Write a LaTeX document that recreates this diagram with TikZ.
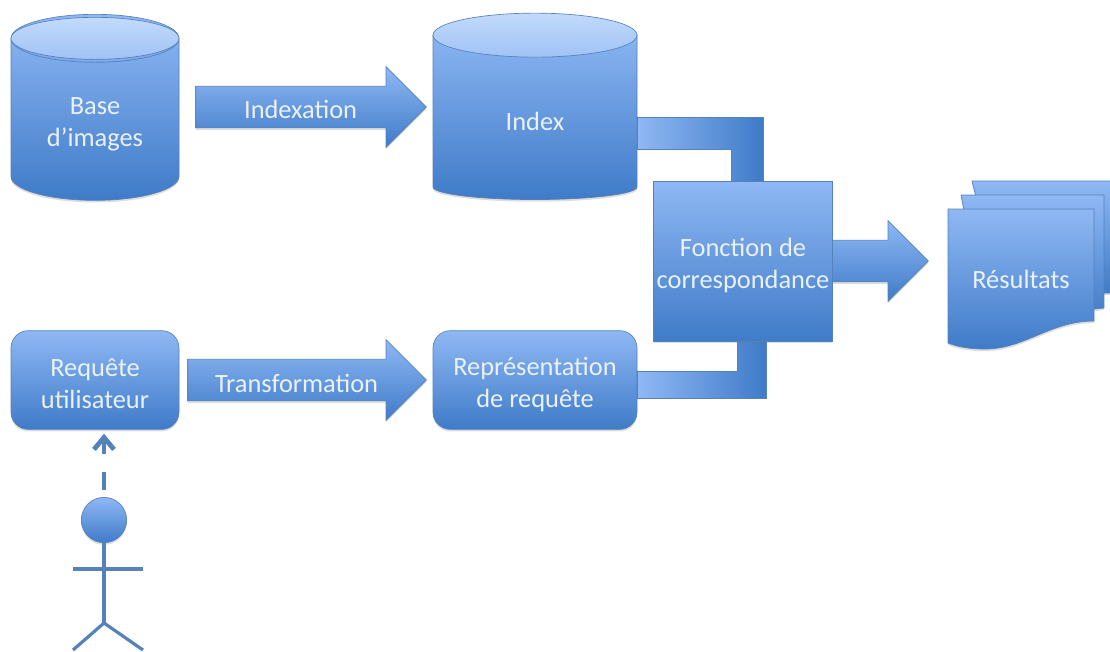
\documentclass[tikz,border=0pt]{standalone}
\usepackage{fontspec}
\setmainfont{Carlito}
\usetikzlibrary{positioning,shapes.geometric,shapes.arrows,shadows,calc,arrows.meta}
\definecolor{bluetop}{HTML}{8FB8F4}
\definecolor{bluebot}{HTML}{3F7BC8}
\definecolor{blueline}{HTML}{5582BA}
\definecolor{bluedisc}{HTML}{C2DAFB}
\definecolor{labelcol}{HTML}{E9F1FB}
\newcommand{\toppad}[1]{\rule{0pt}{#1}}
\tikzset{
  softshadow/.style={drop shadow={opacity=.22,fill=black!60,shadow xshift=0pt,shadow yshift=-1.6pt}},
  bluefill/.style={top color=bluetop,bottom color=bluebot,draw=blueline,line width=.5pt,softshadow},
  labeltext/.style={text=labelcol,align=center,font=\fontsize{19.8}{24}\selectfont},
  dbase/.style={bluefill,labeltext,cylinder,shape border rotate=90,inner sep=0pt},
  topdisc/.style={top color=bluedisc,bottom color=bluetop!85!white,draw=blueline,line width=.5pt},
  squarebox/.style={bluefill,labeltext,rectangle,inner sep=0pt},
  roundbox/.style={squarebox,rounded corners=13pt},
  blockarrow/.style={bluefill,labeltext,single arrow,single arrow head extend=14.6pt,single arrow head indent=0pt,minimum width=60pt,inner sep=0pt,text height=24.4pt,text depth=6.4pt},
  elbowbar/.style={left color=bluetop,right color=bluebot,draw=blueline,line width=.3pt},
  sheet/.style={bluefill},
  stickline/.style={draw=blueline,line width=2.4pt},
}
\begin{document}
\begin{tikzpicture}[x=0.75pt,y=-0.75pt]
\clip (0,0) rectangle (1110,651);
% stores and boxes
\node[dbase,aspect=.5,minimum width=126pt,minimum height=139.5pt] (base) at (95,119.5) {\toppad{20.2pt}Base\\d’images};
\node[dbase,aspect=.43,minimum width=153pt,minimum height=132.75pt] (index) at (535,117.5) {\toppad{20.2pt}Index};
\node[roundbox,minimum width=126pt,minimum height=74pt] (requete) at (95,380) {\toppad{19pt}Requête\\utilisateur};
\node[roundbox,minimum width=153pt,minimum height=74pt] (representation) at (535,380) {\toppad{20pt}Représentation\\de requête};
% top discs of the stores
\draw[topdisc] ($(base.before top)!.5!(base.after top)$) ellipse (84 and 21);
\draw[topdisc] ($(index.before top)!.5!(index.after top)$) ellipse (102 and 22);
% block arrows
\node[blockarrow,minimum height=173pt,right=12pt of base,yshift=9.4pt] (indexation) {Indexation};
\node[blockarrow,minimum height=179pt,right=6pt of requete] (transformation) {Transformation};
% elbows into the matching box
\path[elbowbar] (index.east |- 0,117) -- (763,117) -- (763,190) -- (731,190) -- (731,149) -- (index.east |- 0,149) -- cycle;
\path[elbowbar] (representation.east |- 0,371) -- (737,371) -- (737,330) -- (766,330) -- (766,398) -- (representation.east |- 0,398) -- cycle;
\node[blockarrow,minimum height=72pt,anchor=west] (sortie) at (832,261) {};
\node[squarebox,minimum width=134pt,minimum height=120pt] (fonction) at (743,261) {\toppad{20pt}Fonction de\\correspondance};
% stack of result sheets
\draw[sheet] (972,181) -- (1120,181) -- (1120,293) -- (1000,293) -- cycle;
\draw[sheet] (961,195) -- (1104,195) -- (1104,308) -- (985,320) -- cycle;
\draw[sheet] (948,209) -- (1094,209) -- (1094,321) .. controls (1050,321) and (1025,349) .. (985,349) .. controls (970,349) and (958,347) .. (948,343) -- cycle;
\node[labeltext] (resultats) at (1021,279) {Résultats};
% user
\node[bluefill,circle,minimum size=34pt,inner sep=0pt] (actor) at (104,520) {};
\coordinate (waist) at (104,623);
\coordinate (handl) at (73,569);
\coordinate (handr) at (143,569);
\coordinate (footl) at (73,650);
\coordinate (footr) at (143,650);
\draw[stickline] (actor) -- (waist);
\draw[stickline] (handl) -- (handr);
\draw[stickline] (footl) -- (waist) -- (footr);
\draw[draw=blueline,line width=3.6pt,dash pattern=on 13.5pt off 13.5pt,-{Straight Barb[length=9pt,width=15pt]},shorten <=5.25pt,shorten >=3pt] (actor) -- (actor |- requete.south);
\end{tikzpicture}
\end{document}
